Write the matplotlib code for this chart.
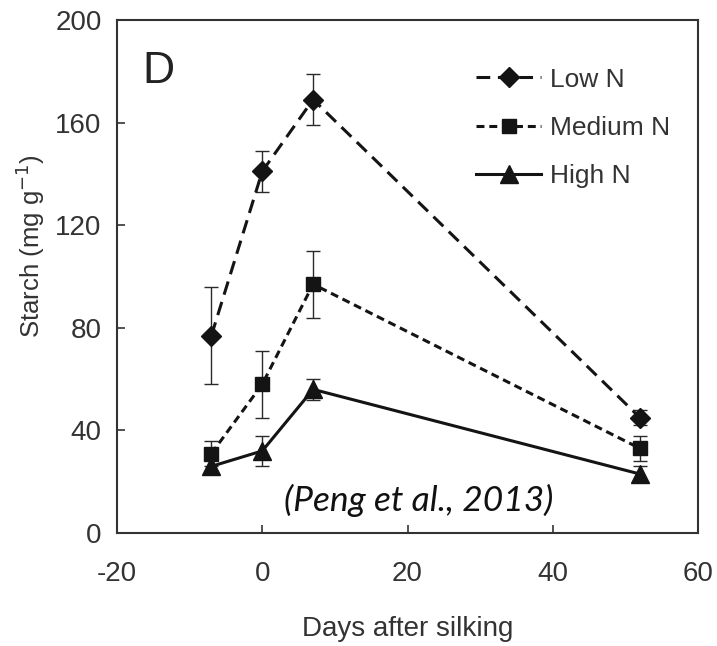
import matplotlib
matplotlib.use("Agg")
import matplotlib.pyplot as plt

days = [-7, 0, 7, 52]
low_n = [77, 141, 169, 45]
low_err = [19, 8, 10, 3]
med_n = [31, 58, 97, 33]
med_err = [5, 13, 13, 5]
high_n = [26, 32, 56, 23]
high_err = [3, 6, 4, 3]
labels = ["Low N", "Medium N", "High N"]
xticks = [-20, 0, 20, 40, 60]
xticklabels = ["-20", "0", "20", "40", "60"]
yticks = [0, 40, 80, 120, 160, 200]

plt.rcParams['font.family'] = ['Liberation Sans', 'DejaVu Sans']

fig = plt.figure(figsize=(7.17, 6.46), dpi=100)
ax = fig.add_axes([0.1632, 0.1749, 0.8103, 0.7941])

ekw = dict(ecolor='#2a2a2a', elinewidth=1.0, capsize=5, capthick=1.0)
ax.errorbar(days, low_n, yerr=low_err, color='#141414', lw=2.2, ls=(0, (4.5, 2.5)),
            marker='D', ms=10.5, label=labels[0], **ekw)
ax.errorbar(days, med_n, yerr=med_err, color='#141414', lw=2.2, ls=(0, (2.6, 1.6)),
            marker='s', ms=10.5, label=labels[1], **ekw)
ax.errorbar(days, high_n, yerr=high_err, color='#141414', lw=2.2, ls='-',
            marker='^', ms=13, label=labels[2], **ekw)

ax.set_xlim(-20, 60)
ax.set_ylim(0, 200)
ax.set_xticks(xticks)
ax.set_xticklabels(xticklabels)
ax.set_yticks(yticks)
ax.tick_params(labelsize=20, colors='#333333', direction='in', length=6, width=1.2)
ax.tick_params(axis='y', pad=11)
ax.tick_params(axis='x', pad=20)
for s in ax.spines.values():
    s.set_color('#333333')
    s.set_linewidth(1.5)
ax.set_xlabel("Days after silking", fontsize=20, color='#333333', labelpad=21)
ax.set_ylabel("Starch (mg g$^{-1}$)", fontsize=18.5, color='#333333')
ax.yaxis.set_label_coords(-0.12, 0.56)

ax.text(0.043, 0.94, "D", transform=ax.transAxes, fontsize=32, va='top', ha='left', color='#222222')
ax.text(0.52, 0.042, "(Peng et al., 2013)", transform=ax.transAxes, fontsize=25.5,
        style='italic', ha='center', va='baseline', family=['Lato', 'DejaVu Sans'], color='#111111')

handles, lbls = ax.get_legend_handles_labels()
handles = [h[0] for h in handles]
leg = ax.legend(handles, lbls, loc='upper right', bbox_to_anchor=(0.971, 0.928), frameon=False,
                fontsize=19, handlelength=2.5, handletextpad=0.34, labelspacing=0.92,
                borderaxespad=0, numpoints=1)
for t in leg.get_texts():
    t.set_color('#333333')

fig.savefig("out.png", dpi=100)
